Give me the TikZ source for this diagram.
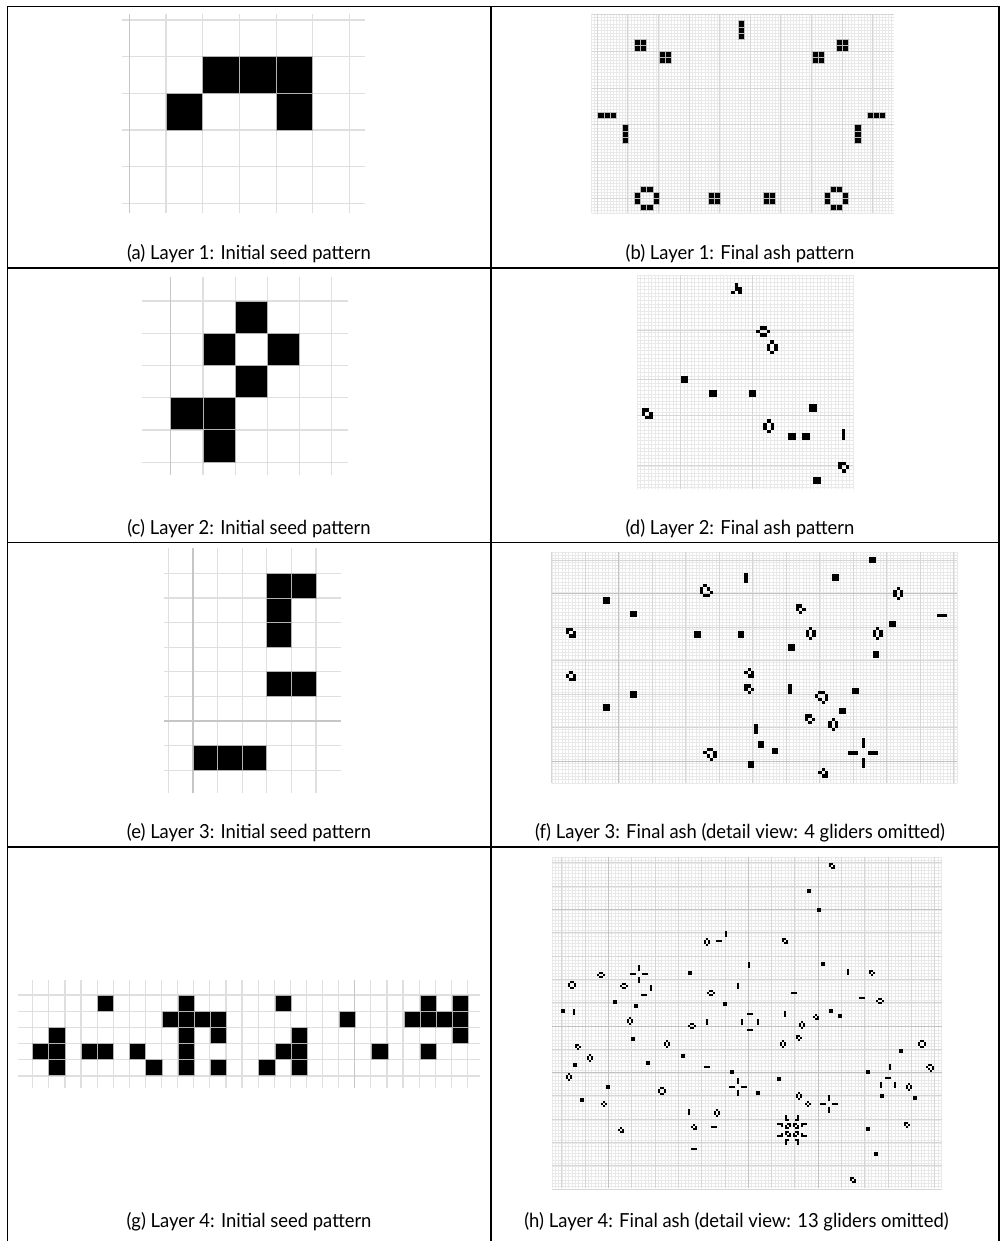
\documentclass[tikz,border=0pt]{standalone}
\usepackage{fontspec}
\setmainfont{Lato}[FakeStretch=0.95]
\def\Sblock{0/0,1/0,0/1,1/1}
\def\SbV{0/0,0/1,0/2}
\def\SbH{0/0,1/0,2/0}
\def\ShiveH{1/0,2/0,0/1,3/1,1/2,2/2}
\def\ShiveV{1/0,0/1,2/1,0/2,2/2,1/3}
\def\Spond{1/0,2/0,0/1,3/1,0/2,3/2,1/3,2/3}
\def\Sboat{0/0,1/0,0/1,2/1,1/2}
\def\Sboatb{1/0,0/1,2/1,1/2,2/2}
\def\Sship{0/0,1/0,0/1,2/1,1/2,2/2}
\def\Sloaf{1/0,2/0,0/1,3/1,1/2,3/2,2/3}
\def\Sloafb{1/0,0/1,2/1,0/2,3/2,1/3,2/3}
\def\Stub{1/0,0/1,2/1,1/2}
\def\Sglider{1/0,1/1,2/1,0/2,2/2}
\def\Scross{-0.5/-4.5,-0.5/-3.5,-0.5/-2.5,-4.5/-0.5,-3.5/-0.5,-2.5/-0.5,1.5/-0.5,2.5/-0.5,3.5/-0.5,-0.5/1.5,-0.5/2.5,-0.5/3.5}
\def\Sclosed{-1.5/-4.5,-0.5/-4.5,0.5/-4.5,-1.5/3.5,-0.5/3.5,0.5/3.5,-4.5/-1.5,-4.5/-0.5,-4.5/0.5,3.5/-1.5,3.5/-0.5,3.5/0.5}
\def\Spulsar{4/0,10/0,4/1,10/1,4/2,5/2,9/2,10/2,0/4,1/4,2/4,5/4,6/4,8/4,9/4,12/4,13/4,14/4,2/5,4/5,6/5,8/5,10/5,12/5,4/6,5/6,9/6,10/6,4/8,5/8,9/8,10/8,2/9,4/9,6/9,8/9,10/9,12/9,0/10,1/10,2/10,5/10,6/10,8/10,9/10,12/10,13/10,14/10,4/12,5/12,9/12,10/12,4/13,10/13,4/14,10/14}
\def\cellsz{3pt}
\newcommand\obj[3]{\begin{scope}[shift={(#1,#2)},x=\cellsz,y=-\cellsz]\foreach \c/\r in #3{\fill[ash] (\c,\r) rectangle ++(1,1);}\end{scope}}
\newcommand\pat[3]{\foreach \c/\r in #3{\filldraw[ashb] ({#1+\c},{#2+\r}) rectangle ++(1,1);}}
\newcommand\seedcells[4]{\begin{scope}[shift={(#1,#2)},x=#3pt,y=-#3pt]\foreach \c/\r in {#4}{\draw[seedcell] (\c,\r) rectangle ++(1,1);}\end{scope}}
\newcommand\gridV[6]{\foreach \i in {0,...,#3}{\pgfmathsetmacro\xx{#1+\i*#2}\draw[#6] (\xx,#4) -- (\xx,#5);}}
\newcommand\gridH[6]{\foreach \i in {0,...,#3}{\pgfmathsetmacro\yy{#1+\i*#2}\draw[#6] (#4,\yy) -- (#5,\yy);}}
\begin{document}
\begin{tikzpicture}[x=1pt,y=-1pt,
 seedgrid/.style={draw=gray!25, line width=1.2pt},
 seedaxis/.style={draw=gray!45, line width=1.2pt},
 seedcell/.style={fill=black, draw=gray!60, line width=0.8pt},
 fine/.style={draw=gray!17, line width=0.35pt},
 major/.style={draw=gray!32, line width=0.5pt},
 dark/.style={draw=gray!48, line width=0.7pt},
 ash/.style={fill=black},
 ashb/.style={fill=black, draw=gray!55, line width=0.4pt},
 captxt/.style={font=\fontsize{19.4}{21}\selectfont, anchor=base, inner sep=0pt},
 tab/.style={line width=1.8pt, line cap=rect}]
\useasboundingbox (0,0) rectangle (1000,1241);
\fill[white] (0,0) rectangle (1000,1241);

% ---------- (a) seed ----------
\gridV{129.3}{36.7}{6}{14}{213}{seedgrid}
\gridH{20}{36.67}{5}{121.7}{365}{seedgrid}
\draw[seedaxis] (129.3,14) -- (129.3,213);
\seedcells{129.3}{20}{36.7}{2/1,3/1,4/1,1/2,4/2}

% ---------- (c) seed ----------
\gridV{170.7}{32.2}{5}{276.7}{475}{seedgrid}
\gridH{301}{32.25}{5}{141.7}{348.3}{seedgrid}
\draw[seedaxis] (170.7,276.7) -- (170.7,475);
\seedcells{170.7}{301}{32.2}{2/0,1/1,3/1,2/2,0/3,1/3,1/4}

% ---------- (e) seed ----------
\gridV{168.3}{24.6}{6}{548}{793}{seedgrid}
\gridH{573.3}{24.6}{8}{164}{340.7}{seedgrid}
\draw[seedaxis] (192.9,548) -- (192.9,793);
\draw[seedaxis] (164,720.9) -- (340.7,720.9);
\seedcells{192.9}{573.3}{24.6}{3/0,4/0,3/1,3/2,3/4,4/4,0/7,1/7,2/7}

% ---------- (g) seed ----------
\gridV{32.7}{16.1}{27}{980}{1088}{seedgrid}
\gridH{995}{16.2}{5}{18.3}{480}{seedgrid}
\draw[seedaxis] (354.7,980) -- (354.7,1088);
\seedcells{32.7}{995}{16.15}{4/0,9/0,15/0,24/0,26/0,8/1,9/1,10/1,11/1,19/1,23/1,24/1,25/1,26/1,1/2,9/2,11/2,16/2,26/2,0/3,1/3,3/3,4/3,6/3,9/3,15/3,16/3,21/3,24/3,1/4,7/4,9/4,11/4,14/4,16/4}

% ---------- (b) ash ----------
\begin{scope}[shift={(591.5,14.5)},x=6.12pt,y=-6.12pt]
\foreach \i in {0,...,98} \draw[fine] (\i/2,0) -- (\i/2,32.5);
\foreach \j in {0,...,65} \draw[fine] (0,\j/2) -- (49.5,\j/2);
\foreach \i in {0,5,...,45} \draw[major] (\i+0.9,0) -- (\i+0.9,32.5);
\foreach \j in {0,6,...,30} \draw[major] (0,\j) -- (49.5,\j);
\pat{24}{1}{\SbV}
\pat{7}{4}{\Sblock}\pat{11}{6}{\Sblock}\pat{40}{4}{\Sblock}\pat{36}{6}{\Sblock}
\pat{1}{16}{\SbH}\pat{5}{18}{\SbV}\pat{45}{16}{\SbH}\pat{43}{18}{\SbV}
\pat{7}{28}{\Spond}\pat{19}{29}{\Sblock}\pat{28}{29}{\Sblock}\pat{38}{28}{\Spond}
\end{scope}

% ---------- (d) ash ----------
\gridV{637}{3.6}{60}{275}{488.6}{fine}
\gridH{275}{3.6}{59}{637}{853}{fine}
\foreach \xx in {680,752.7} \draw[major] (\xx,275) -- (\xx,488.6);
\foreach \yy in {330,379,415.7,465} \draw[major] (637,\yy) -- (853,\yy);
\def\cellsz{3.6pt}
\obj{731}{283.3}{\Sglider}
\obj{756}{326}{\ShiveH}
\obj{766.7}{340}{\ShiveV}
\obj{681}{376}{\Sblock}
\obj{709.3}{390}{\Sblock}
\obj{749}{390}{\Sblock}
\obj{641.7}{408.3}{\Sship}
\obj{809.3}{404.3}{\Sblock}
\obj{763.3}{419}{\ShiveV}
\obj{788.3}{432.7}{\Sblock}
\obj{802.3}{432.7}{\Sblock}
\obj{841.7}{429.3}{\SbV}
\obj{838.3}{461.7}{\Sboat}
\obj{813.3}{476.7}{\Sblock}

% ---------- (f) ash ----------
\gridV{551.7}{3.35}{121}{551.7}{782.9}{fine}
\gridH{551.7}{3.35}{69}{551.7}{957}{fine}
\gridV{551.7}{33.5}{12}{551.7}{782.9}{major}
\gridH{560}{33.5}{6}{551.7}{957}{major}
\draw[dark] (618.7,551.7) -- (618.7,782.9);
\draw[dark] (551.7,593.5) -- (957,593.5);
\draw[dark] (551.7,761) -- (957,761);
\def\cellsz{3.35pt}
\obj{869.3}{556.7}{\Sblock}
\obj{744.3}{573.3}{\SbV}
\obj{832.3}{574}{\Sblock}
\obj{700}{584}{\Sloafb}
\obj{603.3}{597.3}{\Sblock}
\obj{795.7}{604.3}{\Sboat}
\obj{893.3}{586.7}{\ShiveV}
\obj{936.7}{614}{\SbH}
\obj{630}{610.7}{\Sblock}
\obj{889.3}{620.7}{\Sblock}
\obj{566}{627.7}{\Sship}
\obj{694}{631}{\Sblock}
\obj{737.7}{631}{\Sblock}
\obj{805.7}{626.7}{\ShiveV}
\obj{872.7}{626.7}{\ShiveV}
\obj{788.3}{644.3}{\Sblock}
\obj{872.7}{651}{\Sblock}
\obj{566}{671}{\Sboatb}
\obj{744.3}{667.7}{\Sboatb}
\obj{744.3}{684.3}{\Sboat}
\obj{788.3}{684.3}{\SbV}
\obj{630}{691}{\Sblock}
\obj{852.3}{687.7}{\Sblock}
\obj{815}{691}{\Sloaf}
\obj{603.3}{704.3}{\Sblock}
\obj{839}{707.7}{\Sblock}
\obj{805}{714.3}{\Sboat}
\obj{828.3}{717.7}{\ShiveV}
\obj{754.3}{724.3}{\SbV}
\obj{757.7}{741}{\Sblock}
\obj{771.7}{747.7}{\Sblock}
\obj{703.3}{747.7}{\Sloaf}
\obj{747.7}{761}{\Sblock}
\obj{818.3}{767.7}{\Sboatb}
\obj{863.4}{753}{\Scross}

% ---------- (h) ash ----------
\gridV{551.7}{3.33}{117}{856.7}{1188.3}{fine}
\gridH{856.7}{3.33}{99}{551.7}{941.7}{fine}
\gridV{561.7}{23.3}{16}{856.7}{1188.3}{major}
\gridH{862.7}{23.3}{14}{551.7}{941.7}{major}
\foreach \xx in {608.3,748.3,818.3} \draw[dark] (\xx,856.7) -- (\xx,1188.3);
\foreach \yy in {909.3,1026,1072.6} \draw[dark] (551.7,\yy) -- (941.7,\yy);
\def\cellsz{2pt}
\obj{828.7}{862.7}{\Sship}
\obj{807.3}{888.7}{\Sblock}
\obj{817}{908}{\Sblock}
\obj{704.3}{938.3}{\ShiveV}
\obj{716}{940}{\SbH}
\obj{725}{931.3}{\SbV}
\obj{782}{938}{\Sship}
\obj{748.3}{962}{\SbV}
\obj{821.3}{962}{\Sblock}
\obj{847.3}{969}{\SbV}
\obj{869.3}{969.7}{\Sboat}
\obj{596.7}{972}{\ShiveH}
\obj{639.3}{974.3}{\Scross}
\obj{568.3}{980.7}{\Spond}
\obj{688}{971.3}{\Sblock}
\obj{620}{983}{\ShiveH}
\obj{641}{994.3}{\SbH}
\obj{650}{985.3}{\SbV}
\obj{737.3}{983}{\SbV}
\obj{707}{990.3}{\ShiveH}
\obj{791.3}{992.3}{\SbH}
\obj{859.3}{996.7}{\SbH}
\obj{876}{997.7}{\ShiveH}
\obj{613}{999.7}{\Sblock}
\obj{634}{1004}{\Sblock}
\obj{723.3}{1002}{\Sblock}
\obj{561.3}{1009}{\Sblock}
\obj{572.7}{1009.3}{\SbV}
\obj{627}{1016.7}{\ShiveV}
\obj{688.3}{1023}{\ShiveH}
\obj{706.3}{1018.7}{\SbV}
\obj{749.7}{1021.7}{\Sclosed}
\obj{784.3}{1011}{\SbV}
\obj{813}{1013.7}{\Sboatb}
\obj{828.7}{1009}{\Sblock}
\obj{838.3}{1013.7}{\Sblock}
\obj{798.7}{1021}{\ShiveV}
\obj{796.3}{1035.3}{\Sboat}
\obj{631.3}{1037}{\Sblock}
\obj{664.3}{1040}{\ShiveV}
\obj{779.7}{1040}{\ShiveV}
\obj{575.3}{1044.3}{\Sboat}
\obj{918.3}{1040}{\Spond}
\obj{899}{1049}{\Sblock}
\obj{587}{1054.3}{\ShiveV}
\obj{680.7}{1053.7}{\Sblock}
\obj{645.7}{1060.7}{\Sblock}
\obj{573}{1063}{\Sblock}
\obj{704.3}{1065.7}{\SbH}
\obj{889}{1063.7}{\SbV}
\obj{926}{1063.7}{\Sloaf}
\obj{730.3}{1069.7}{\Sblock}
\obj{866.3}{1069.7}{\Sblock}
\obj{566}{1073}{\ShiveV}
\obj{885.3}{1076.7}{\SbH}
\obj{738.3}{1086.7}{\Scross}
\obj{777}{1077.3}{\Sblock}
\obj{606}{1084.7}{\Sblock}
\obj{658}{1086.7}{\Spond}
\obj{880}{1082.3}{\SbV}
\obj{894}{1082.3}{\SbV}
\obj{906}{1082.7}{\ShiveV}
\obj{756.3}{1091.3}{\Sblock}
\obj{795.7}{1092}{\ShiveV}
\obj{880.3}{1094}{\Sblock}
\obj{913.3}{1096.3}{\Sblock}
\obj{580}{1098.3}{\Sblock}
\obj{601.3}{1101.3}{\Stub}
\obj{805.3}{1101.3}{\Stub}
\obj{829.3}{1104}{\Scross}
\obj{687.7}{1108.7}{\SbV}
\obj{714.3}{1108.7}{\ShiveV}
\obj{776.7}{1114.7}{\Spulsar}
\obj{690.7}{1124.3}{\Sboatb}
\obj{711.3}{1126.3}{\SbH}
\obj{866.3}{1126.7}{\Sblock}
\obj{904}{1122}{\Sboat}
\obj{617.7}{1127}{\Sboatb}
\obj{690.7}{1147.7}{\SbH}
\obj{873.7}{1152.3}{\Sblock}
\obj{850.3}{1177}{\Sship}

% ---------- table ----------
\draw[tab] (7.5,1250) -- (7.5,6.5) -- (999,6.5) -- (999,1250);
\draw[tab] (491,6.5) -- (491,1250);
\draw[tab] (7.5,268) -- (999,268);
\draw[tab] (7.5,542.5) -- (999,542.5);
\draw[tab] (7.5,847) -- (999,847);

% ---------- captions ----------
\node[captxt] (capa) at (249,259.5) {(a) Layer 1: Initial seed pattern};
\node[captxt] (capb) at (740,259.5) {(b) Layer 1: Final ash pattern};
\node[captxt] (capc) at (249,534) {(c) Layer 2: Initial seed pattern};
\node[captxt] (capd) at (740,534) {(d) Layer 2: Final ash pattern};
\node[captxt] (cape) at (249,838.5) {(e) Layer 3: Initial seed pattern};
\node[captxt] (capf) at (740,838.5) {(f) Layer 3: Final ash (detail view: 4 gliders omitted)};
\node[captxt] (capg) at (249,1227) {(g) Layer 4: Initial seed pattern};
\node[captxt] (caph) at (736.5,1227) {(h) Layer 4: Final ash (detail view: 13 gliders omitted)};
\end{tikzpicture}
\end{document}
